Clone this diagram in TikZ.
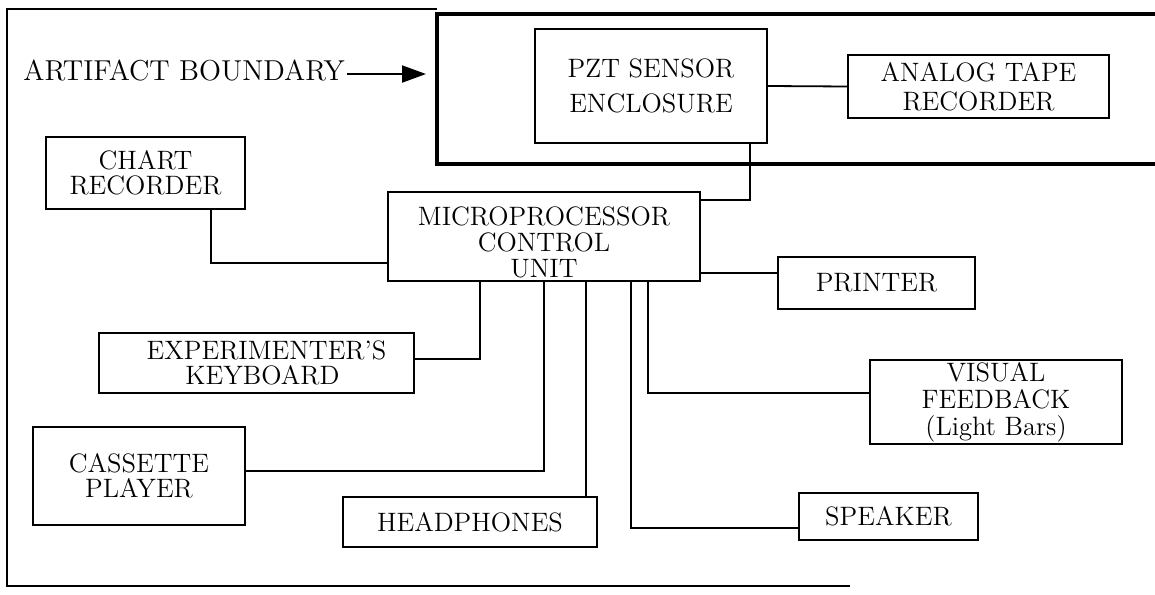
\documentclass[tikz,border=0pt]{standalone}
\usetikzlibrary{arrows.meta}
\begin{document}
\tikzset{
  box/.style={draw, line width=0.9pt, inner sep=0pt, align=center, font=\fontsize{13.1}{12.5}\selectfont},
  wire/.style={line width=0.9pt},
  bound/.style={line width=1.8pt},
}
\begin{tikzpicture}[x=0.5pt,y=-0.5pt]
\useasboundingbox (0,0) rectangle (1155,594);
% outer border and artifact boundary
\draw[wire] (850,586) -- (7,586) -- (7,9) -- (437,9);
\draw[bound] (1155,14) -- (437,14) -- (437,164) -- (1155,164);
% helper coordinates
\coordinate (x211) at (211,0);
\coordinate (x480) at (480,0);
\coordinate (x544) at (544,0);
\coordinate (x586) at (586,0);
\coordinate (x631) at (631,0);
\coordinate (x648) at (648,0);
\coordinate (x750) at (750,0);
\coordinate (y200) at (0,200);
\coordinate (y263) at (0,263);
\coordinate (y273) at (0,273);
\coordinate (y359) at (0,359);
\coordinate (y393) at (0,393);
\coordinate (y471) at (0,471);
\coordinate (y528) at (0,528);
\coordinate (tip) at (426,0);
% label and arrow
\node[anchor=base west, inner sep=0pt, font=\fontsize{14.4}{15}\selectfont] (art) at (23,80) {ARTIFACT BOUNDARY};
\draw[line width=1pt, -{Triangle[length=12pt,width=8.5pt]}] ([xshift=1pt,yshift=-2pt]art.east) -- ([yshift=-2pt]art.east -| tip);
% boxes
\node[box, minimum width=116pt, minimum height=57pt, font=\fontsize{13.3}{17.5}\selectfont] (pzt) at (651,86) {PZT SENSOR\\ENCLOSURE};
\node[box, minimum width=130.5pt, minimum height=31.5pt, font=\fontsize{13.3}{14.5}\selectfont] (atr) at (978.5,86.5) {ANALOG TAPE\\RECORDER};
\node[box, minimum width=99.5pt, minimum height=36pt, font=\fontsize{13.3}{12.5}\selectfont] (chart) at (145.5,173) {CHART\\RECORDER};
\node[box, minimum width=156pt, minimum height=44.5pt, font=\fontsize{13.3}{13}\selectfont] (micro) at (544,236.5) {\rule{0pt}{15pt}MICROPROCESSOR\\CONTROL\\UNIT};
\node[box, minimum width=98.5pt, minimum height=26pt, font=\fontsize{13.3}{13}\selectfont] (printer) at (876.5,283) {PRINTER};
\node[box, minimum width=157.5pt, minimum height=30pt, font=\fontsize{13.3}{12.5}\selectfont] (keyb) at (256.5,363) {\hspace*{10pt}EXPERIMENTER'S\\\hspace*{6pt}KEYBOARD};
\node[box, minimum width=106pt, minimum height=49pt, font=\fontsize{13.3}{12.5}\selectfont] (cass) at (139,476) {CASSETTE\\PLAYER};
\node[box, minimum width=127pt, minimum height=25pt, font=\fontsize{13.3}{13}\selectfont] (head) at (470,522) {HEADPHONES};
\node[box, minimum width=126pt, minimum height=42pt, font=\fontsize{13.3}{13.5}\selectfont] (vis) at (996,402) {VISUAL\\FEEDBACK\\(Light Bars)};
\node[box, minimum width=89.5pt, minimum height=23.5pt, font=\fontsize{13.3}{13}\selectfont] (spk) at (888.5,516.5) {SPEAKER};
% connectors
\draw[wire] (pzt.east) -- (atr.west);
\draw[wire] (pzt.south -| x750) |- (micro.east |- y200);
\draw[wire] (chart.south -| x211) |- (micro.west |- y263);
\draw[wire] (micro.east |- y273) -- (printer.west |- y273);
\draw[wire] (micro.south -| x480) |- (keyb.east |- y359);
\draw[wire] (micro.south -| x544) |- (cass.east |- y471);
\draw[wire] (micro.south -| x586) -- (head.north -| x586);
\draw[wire] (micro.south -| x648) |- (vis.west |- y393);
\draw[wire] (micro.south -| x631) |- (spk.west |- y528);
\end{tikzpicture}
\end{document}
